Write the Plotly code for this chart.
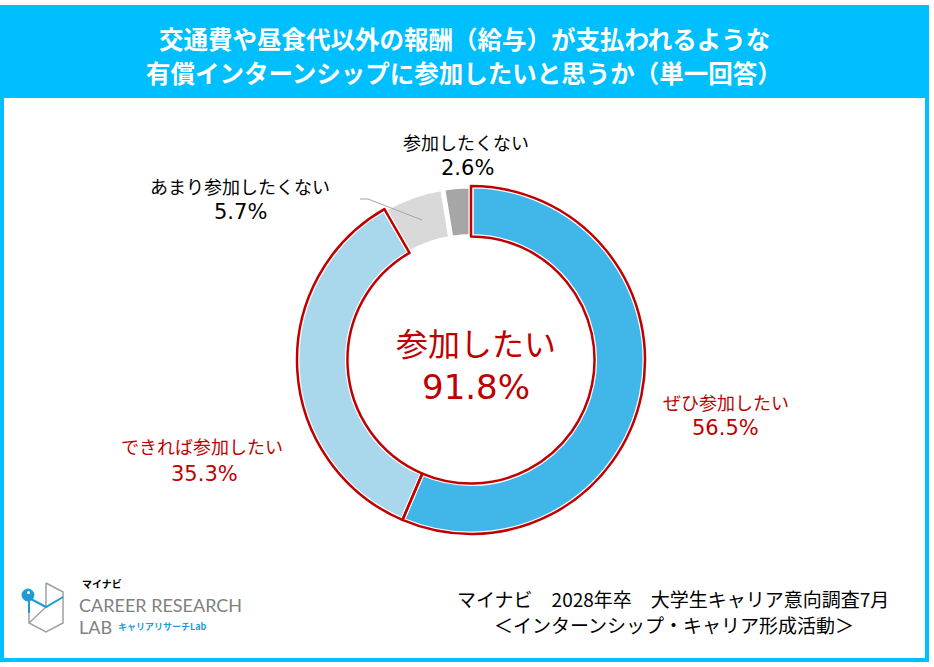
import plotly.graph_objects as go

W = 934
H = 667

labels = ["ぜひ参加したい", "できれば参加したい", "あまり参加したくない", "参加したくない"]
values = [56.5, 35.3, 5.7, 2.6]
colors = ["#41B6E9", "#A9D8EC", "#D9D9D9", "#A6A6A6"]
total_label = "参加したい"
total_value = 91.8

title_lines = ["交通費や昼食代以外の報酬（給与）が支払われるような",
               "有償インターンシップに参加したいと思うか（単一回答）"]
source_lines = ["マイナビ　2028年卒　大学生キャリア意向調査7月",
                "＜インターンシップ・キャリア形成活動＞"]

RED = "#C00000"
CYAN = "#00BFFF"
FONT = "Noto Sans CJK JP"
NUMFONT = "DejaVu Sans"


def px(x):
    return x / W


def py(y):
    return 1 - y / H


# donut: centre (471, 360), outer radius 174
cx, cy, r = 471, 360, 174
dom = dict(x=[px(cx - r), px(cx + r)], y=[py(cy + r), py(cy - r)])

fig = go.Figure()
fig.add_trace(go.Pie(
    labels=labels, values=values, sort=False, direction="clockwise", rotation=0,
    hole=0.71, domain=dom, textinfo="none", hoverinfo="label+percent",
    marker=dict(colors=colors, line=dict(color="white", width=5)),
    showlegend=False,
))
# red outline around the two "参加したい" slices
fig.add_trace(go.Pie(
    labels=labels, values=values, sort=False, direction="clockwise", rotation=0,
    hole=0.71, domain=dom, textinfo="none", hoverinfo="skip",
    marker=dict(colors=["rgba(0,0,0,0)"] * 4,
                line=dict(color=[RED, RED, "rgba(0,0,0,0)", "rgba(0,0,0,0)"], width=2.5)),
    showlegend=False,
))

ann = []


def label(text, x, y, size, color="black", anchor="center", family=FONT):
    ann.append(dict(text=text, x=px(x), y=py(y), xref="paper", yref="paper",
                    showarrow=False, xanchor=anchor, yanchor="middle",
                    font=dict(family=family, size=size, color=color)))


label("<b>" + title_lines[0] + "</b>", 464, 38, 24.5, "white")
label("<b>" + title_lines[1] + "</b>", 464, 72, 24.5, "white")

label(labels[3], 466, 142, 18)
label(f"{values[3]}%", 467, 168, 21, family=NUMFONT)
label(labels[2], 240, 186, 18)
label(f"{values[2]}%", 240, 212, 21, family=NUMFONT)
label(labels[0], 726, 402, 18, RED)
label(f"{values[0]}%", 725, 428, 21, RED, family=NUMFONT)
label(labels[1], 202, 446, 18, RED)
label(f"{values[1]}%", 204, 474, 21, RED, family=NUMFONT)

label(total_label, 476, 342, 32, RED)
label(f"{total_value}%", 476, 387, 34, RED, family=NUMFONT)

label(source_lines[0], 673, 598, 19)
label(source_lines[1], 674, 624, 19)

# logo text
label("<b>マイナビ</b>", 80, 583, 10, "black", "left")
label("CAREER RESEARCH", 77, 605, 18, "#808080", "left", "Lato")
label("LAB", 77, 627, 18, "#808080", "left", "Lato")
label("<b>キャリアリサーチLab</b>", 116, 626, 9, "#1E9BD7", "left")

shapes = []
# frame and header band
shapes.append(dict(type="rect", xref="paper", yref="paper",
                   x0=px(2), x1=px(927), y0=py(660), y1=py(7),
                   line=dict(color=CYAN, width=4), fillcolor="rgba(0,0,0,0)"))
shapes.append(dict(type="rect", xref="paper", yref="paper",
                   x0=px(2), x1=px(927), y0=py(98), y1=py(7),
                   line=dict(width=0), fillcolor=CYAN, layer="below"))
# leader line for あまり参加したくない
shapes.append(dict(type="path", xref="paper", yref="paper",
                   path=f"M {px(360)},{py(199)} L {px(368)},{py(199)} L {px(422)},{py(220)}",
                   line=dict(color="#A6A6A6", width=1)))

# logo icon (rough)
gray = "#A0A0A0"
blue = "#1E9BD7"
hexpath = [(46, 583), (63, 592), (63, 623), (46, 632), (29, 623), (29, 610)]
path = "M " + " L ".join(f"{px(a)},{py(b)}" for a, b in hexpath)
shapes.append(dict(type="path", xref="paper", yref="paper", path=path,
                   line=dict(color=gray, width=1.5)))
shapes.append(dict(type="path", xref="paper", yref="paper",
                   path=f"M {px(46)},{py(583)} L {px(46)},{py(607)} L {px(29)},{py(623)}",
                   line=dict(color=gray, width=1.5)))
shapes.append(dict(type="path", xref="paper", yref="paper",
                   path=f"M {px(29)},{py(597)} L {px(29)},{py(613)} M {px(31)},{py(599)} L {px(46)},{py(607)} L {px(63)},{py(597)}",
                   line=dict(color=blue, width=2)))
shapes.append(dict(type="circle", xref="paper", yref="paper",
                   x0=px(22), x1=px(34), y0=py(601), y1=py(589),
                   line=dict(color=blue, width=1), fillcolor=blue))
shapes.append(dict(type="circle", xref="paper", yref="paper",
                   x0=px(27), x1=px(30), y0=py(594), y1=py(591),
                   line=dict(width=0), fillcolor="white"))

fig.update_layout(
    width=W, height=H,
    margin=dict(l=0, r=0, t=0, b=0),
    paper_bgcolor="white", plot_bgcolor="white",
    annotations=ann, shapes=shapes,
    font=dict(family=FONT),
)

# drop the default 8px body margin so the figure sits at the window corner
fig.write_html("out.html", config={"displayModeBar": False},
               post_script="document.body.style.margin='0px';")
